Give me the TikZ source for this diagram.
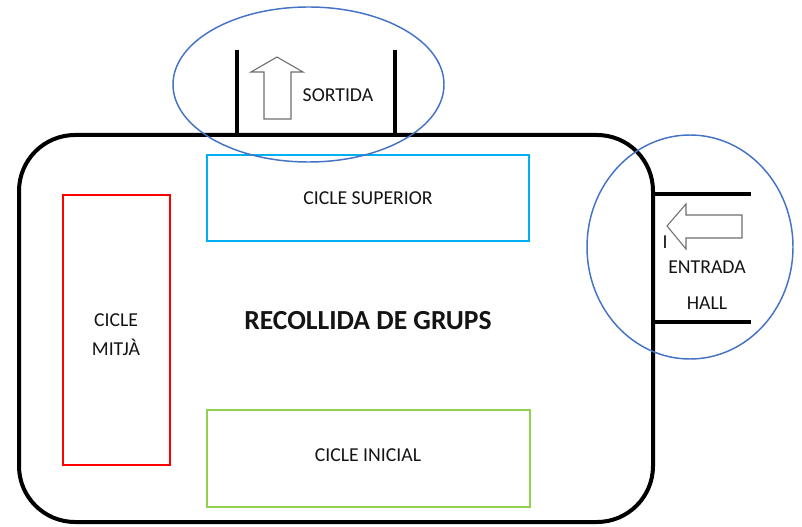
\documentclass[tikz,border=0pt]{standalone}
\usepackage{fontspec}
\setmainfont{Carlito}
\definecolor{ellblue}{RGB}{68,114,196}
\definecolor{cybox}{RGB}{0,176,240}
\definecolor{rdbox}{RGB}{255,0,0}
\definecolor{grbox}{RGB}{146,208,80}
\definecolor{arrgray}{RGB}{110,110,110}
\definecolor{txt}{RGB}{20,20,20}
\tikzset{
  wall/.style={line width=3pt,black},
  zone/.style={draw,line width=2.2pt,inner sep=0pt},
  ring/.style={draw=ellblue,line width=1.1pt},
  flecha/.style={draw=arrgray,line width=0.8pt,fill=white},
  lbl/.style={font=\fontsize{14.8}{17}\selectfont,text=txt,inner sep=0pt},
}
\begin{document}
\begin{tikzpicture}[x=0.75pt,y=-0.75pt]
\useasboundingbox (0,0) rectangle (802,527);
% main room
\draw[wall,rounded corners=42pt] (19,135) rectangle (653,522);
% exit walls
\draw[wall] (237,50) -- (237,135);
\draw[wall] (395,50) -- (395,135);
% entrance walls
\draw[wall] (653,194) -- (751,194);
\draw[wall] (653,322) -- (751,322);
% zones
\node[zone,draw=cybox,minimum width=241.5pt,minimum height=64.5pt] (sup) at (368,198) {};
\node[lbl] (suptxt) at (368,198) {CICLE SUPERIOR};
\node[zone,draw=rdbox,minimum width=80.25pt,minimum height=202.5pt] (mit) at (116.5,330) {};
\node[lbl] (mit1) at (116,320) {CICLE};
\node[lbl] (mit2) at (116,347) {MITJÀ};
\node[zone,draw=grbox,minimum width=242.25pt,minimum height=72.75pt] (ini) at (368.5,458.5) {};
\node[lbl] (initxt) at (368,455) {CICLE INICIAL};
\node[font=\fontsize{20.7}{24}\selectfont\bfseries,text=txt,inner sep=0pt] (title) at (368,321) {RECOLLIDA DE GRUPS};
% exit arrow
\draw[flecha] (277,57) -- (303,72) -- (291,72) -- (291,119) -- (264,119) -- (264,72) -- (251,72) -- cycle;
\node[lbl] (sortida) at (338,95) {SORTIDA};
% entrance arrow
\draw[flecha] (667,226) -- (686,204) -- (686,215) -- (742,215) -- (742,238) -- (686,238) -- (686,249) -- cycle;
\node[lbl] (cursor) at (665,242) {I};
\node[lbl] (entrada) at (707,267) {ENTRADA};
\node[lbl] (hall) at (707,303) {HALL};
% highlight ellipses
\draw[ring] (308.5,84.5) ellipse [x radius=135.5, y radius=77.5];
\draw[ring] (690,247) ellipse [x radius=103, y radius=112];
\end{tikzpicture}
\end{document}
